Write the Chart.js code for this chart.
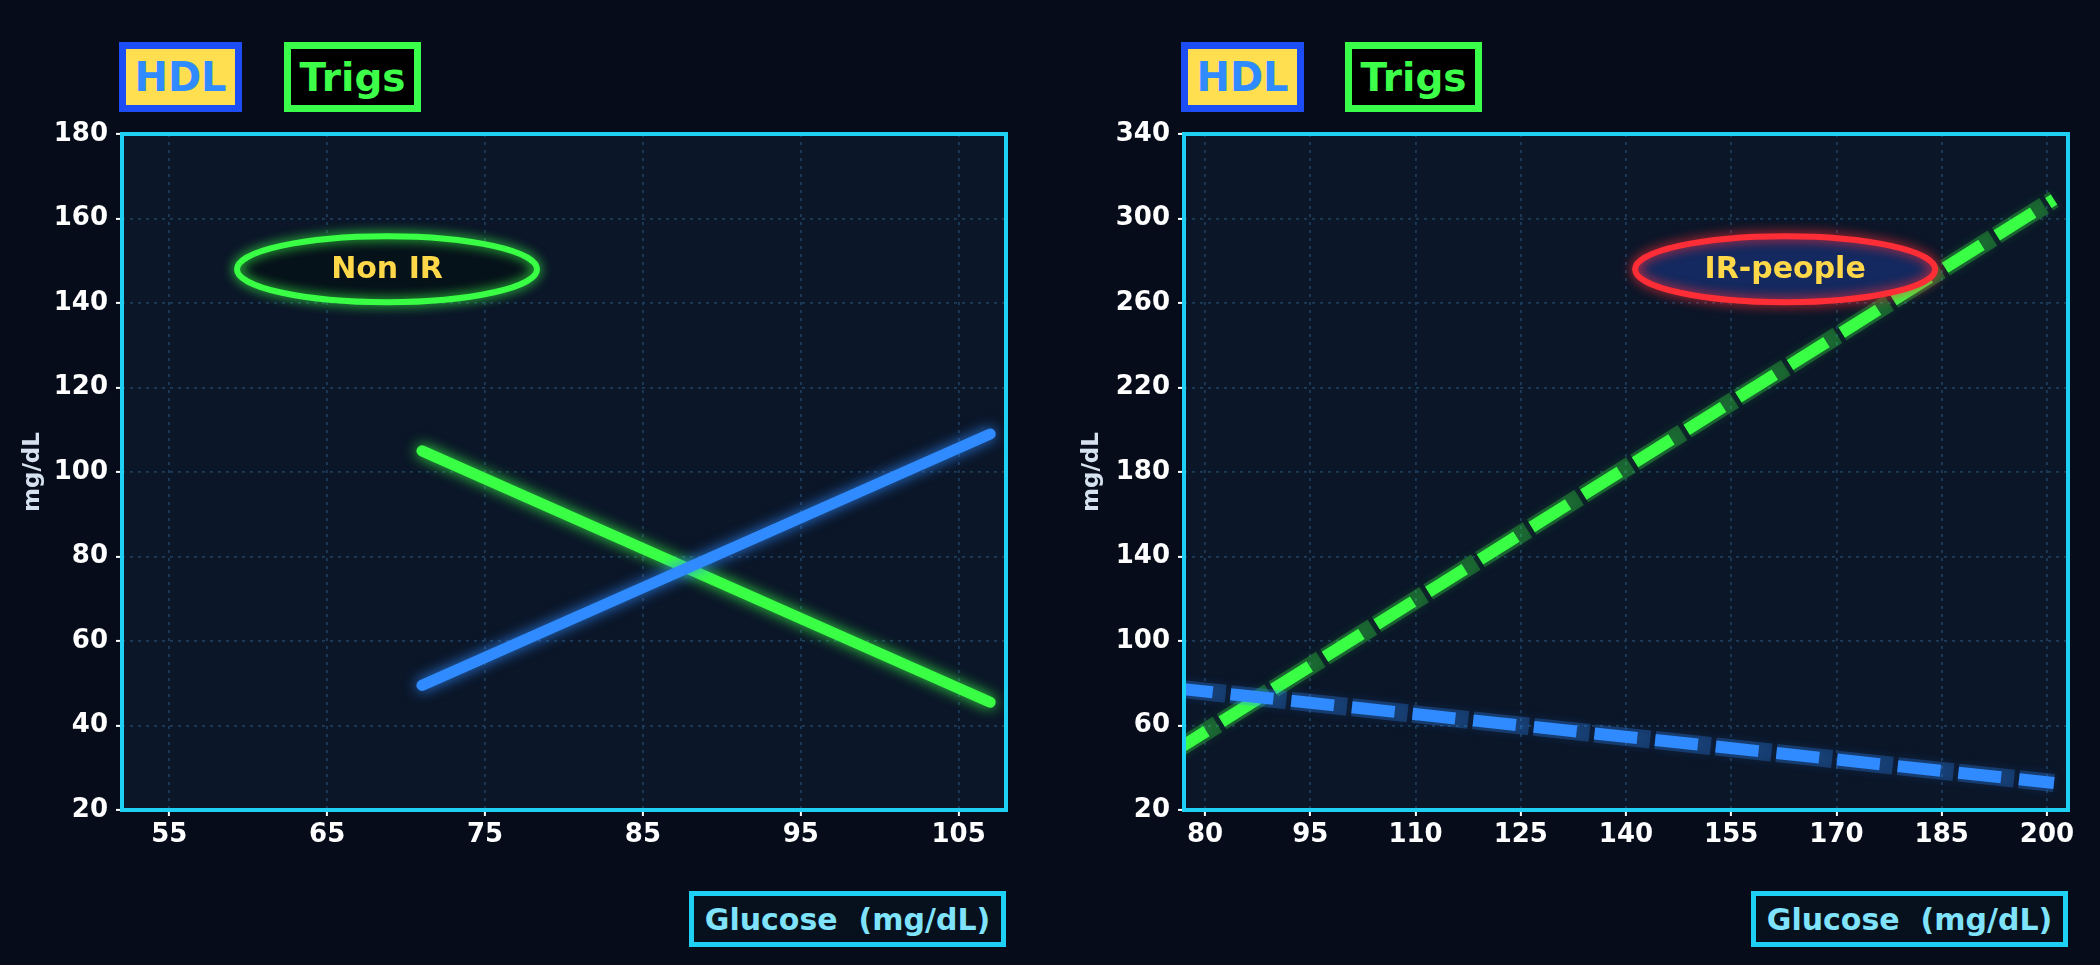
<!DOCTYPE html>
<html>
<head>
<meta charset="utf-8">
<script src="https://cdn.jsdelivr.net/npm/chart.js@4.4.1/dist/chart.umd.min.js"></script>
<style>
  body { margin: 0; background: #060c1a; width: 2100px; height: 965px; overflow: hidden; position: relative; font-family: "DejaVu Sans", sans-serif; }
  .panel { position: absolute; top: 0; width: 1050px; height: 965px; }
  .tag { position: absolute; box-sizing: border-box; font-weight: bold; display: flex; align-items: center; justify-content: center; white-space: pre; }
  .hdl { top: 42px; width: 123px; height: 70px; border: 7px solid #1d4ef5; background: #ffdf4f; color: #2f8bff; font-size: 40px; }
  .trigs { top: 42px; width: 137px; height: 70px; border: 7px solid #39ff4a; background: #000; color: #3dff4a; font-size: 39px; }
  .xtitle { top: 891px; width: 317px; height: 56px; border: 5px solid #1fd0f5; background: #07101d; color: #7fe3fb; font-size: 30px; }
</style>
</head>
<body>
<div class="panel" style="left:0">
  <canvas id="left"></canvas>
  <div class="tag hdl" style="left:119px">HDL</div>
  <div class="tag trigs" style="left:284px">Trigs</div>
  <div class="tag xtitle" style="left:689px">Glucose  (mg/dL)</div>
</div>
<div class="panel" style="left:1050px">
  <canvas id="right"></canvas>
  <div class="tag hdl" style="left:131px">HDL</div>
  <div class="tag trigs" style="left:295px">Trigs</div>
  <div class="tag xtitle" style="left:701px">Glucose  (mg/dL)</div>
</div>
<script>
// left panel - non insulin resistant
var nonIrGlucose = [71, 107];
var nonIrHdl = [49.5, 109];
var nonIrTrigs = [105, 45.5];
var leftXTicks = [55, 65, 75, 85, 95, 105];
var leftYTicks = [20, 40, 60, 80, 100, 120, 140, 160, 180];

// right panel - insulin resistant
var irGlucose = [75, 201];
var irHdl = [77.9, 32.8];
var irTrigs = [46.5, 309];
var rightXTicks = [80, 95, 110, 125, 140, 155, 170, 185, 200];
var rightYTicks = [20, 60, 100, 140, 180, 220, 260, 300, 340];

var BLUE = '#2f8bff', GREEN = '#39ff45';
Chart.defaults.font.family = '"DejaVu Sans", sans-serif';

function pts(xs, ys) {
  return xs.map(function (x, i) { return { x: x, y: ys[i] }; });
}

// plot background, cyan frame and the ellipse label
var framePlugin = {
  id: 'frame',
  beforeDraw: function (chart) {
    var a = chart.chartArea, ctx = chart.ctx;
    ctx.save();
    ctx.fillStyle = '#0b1628';
    ctx.fillRect(a.left, a.top, a.width, a.height);
    ctx.restore();
  },
  afterDatasetsDraw: function (chart, args, o) {
    var a = chart.chartArea, ctx = chart.ctx;
    ctx.save();
    ctx.strokeStyle = '#1fd0f5';
    ctx.lineWidth = 4;
    ctx.strokeRect(a.left, a.top, a.width, a.height);
    // ellipse note
    var cx = a.left + o.fx * a.width, cy = a.top + o.fy * a.height;
    ctx.beginPath();
    ctx.ellipse(cx, cy, 150, 33, 0, 0, Math.PI * 2);
    ctx.fillStyle = o.fill;
    ctx.fill();
    ctx.shadowColor = o.edge;
    ctx.shadowBlur = 12;
    ctx.lineWidth = 6;
    ctx.strokeStyle = o.edge;
    ctx.stroke();
    ctx.shadowBlur = 0;
    ctx.fillStyle = '#ffd84a';
    ctx.font = 'bold 30px "DejaVu Sans"';
    ctx.textAlign = 'center';
    ctx.textBaseline = 'middle';
    ctx.fillText(o.text, cx, cy + 1);
    ctx.restore();
  }
};

// soft glow under each line
var glowPlugin = {
  id: 'glow',
  beforeDatasetDraw: function (chart, args) {
    var ds = chart.data.datasets[args.index];
    chart.ctx.save();
    if (ds.glow) {
      chart.ctx.shadowColor = ds.glow;
      chart.ctx.shadowBlur = ds.glowBlur || 12;
    }
  },
  afterDatasetDraw: function (chart) {
    chart.ctx.restore();
  }
};

function scales(xTicks, yTicks, xMin, xMax, yMin, yMax, yWidth) {
  var tickFont = { size: 26, weight: 'bold' };
  var grid = {
    color: '#1d3c5a', lineWidth: 1.8,
    drawTicks: true, tickLength: 6, tickColor: '#ffffff', tickWidth: 2, tickBorderDash: []
  };
  var border = { display: false, dash: [3, 5] };
  return {
    x: {
      type: 'linear', min: xMin, max: xMax,
      afterBuildTicks: function (s) { s.ticks = xTicks.map(function (v) { return { value: v }; }); },
      afterFit: function (s) { s.height = 155; },
      ticks: { color: '#ffffff', font: tickFont, padding: 4, autoSkip: false, maxRotation: 0 },
      grid: grid,
      border: border
    },
    y: {
      type: 'linear', min: yMin, max: yMax,
      afterBuildTicks: function (s) { s.ticks = yTicks.map(function (v) { return { value: v }; }); },
      afterFit: function (s) { s.width = yWidth; },
      ticks: { color: '#ffffff', font: tickFont, padding: 8 },
      grid: grid,
      border: border,
      title: { display: true, text: 'mg/dL', color: '#d5e1ee', font: { size: 23, weight: 'bold' }, padding: 0 }
    }
  };
}

new Chart(document.getElementById('left'), {
  type: 'line',
  data: {
    datasets: [{
      label: 'HDL', data: pts(nonIrGlucose, nonIrHdl), order: 1,
      borderColor: BLUE, borderWidth: 11, borderCapStyle: 'round',
      glow: 'rgba(47,139,255,0.9)', glowBlur: 14
    }, {
      label: 'Trigs', data: pts(nonIrGlucose, nonIrTrigs), order: 2,
      borderColor: GREEN, borderWidth: 11, borderCapStyle: 'round',
      glow: 'rgba(57,255,69,0.9)', glowBlur: 14
    }]
  },
  options: {
    responsive: true, maintainAspectRatio: false, animation: false,
    layout: { padding: { left: 19, top: 134, right: 44, bottom: 0 } },
    elements: { point: { radius: 0 }, line: { tension: 0 } },
    plugins: { legend: { display: false }, tooltip: { enabled: false },
      frame: { fx: 0.2998, fy: 0.2, fill: '#06121a', edge: '#39ff45', text: 'Non IR' } },
    scales: scales(leftXTicks, leftYTicks, 52, 108, 20, 180, 103)
  },
  plugins: [framePlugin, glowPlugin]
});

new Chart(document.getElementById('right'), {
  type: 'line',
  data: {
    datasets: [{
      label: 'HDL', data: pts(irGlucose, irHdl), order: 1,
      borderColor: BLUE, borderWidth: 12, borderDash: [43, 18]
    }, {
      label: 'HDL glow', data: pts(irGlucose, irHdl), order: 2,
      borderColor: 'rgba(47,139,255,0.28)', borderWidth: 18, borderDash: [56, 5],
      glow: 'rgba(47,139,255,0.45)', glowBlur: 10
    }, {
      label: 'Trigs', data: pts(irGlucose, irTrigs), order: 3,
      borderColor: GREEN, borderWidth: 12, borderDash: [43, 18]
    }, {
      label: 'Trigs glow', data: pts(irGlucose, irTrigs), order: 4,
      borderColor: 'rgba(57,255,69,0.28)', borderWidth: 18, borderDash: [56, 5],
      glow: 'rgba(57,255,69,0.45)', glowBlur: 10
    }]
  },
  options: {
    responsive: true, maintainAspectRatio: false, animation: false,
    layout: { padding: { left: 28, top: 134, right: 32, bottom: 0 } },
    elements: { point: { radius: 0 }, line: { tension: 0 } },
    plugins: { legend: { display: false }, tooltip: { enabled: false },
      frame: { fx: 0.68, fy: 0.2, fill: '#13295f', edge: '#ff2d35', text: 'IR-people' } },
    scales: scales(rightXTicks, rightYTicks, 77, 203, 20, 340, 106)
  },
  plugins: [framePlugin, glowPlugin]
});
</script>
</body>
</html>
